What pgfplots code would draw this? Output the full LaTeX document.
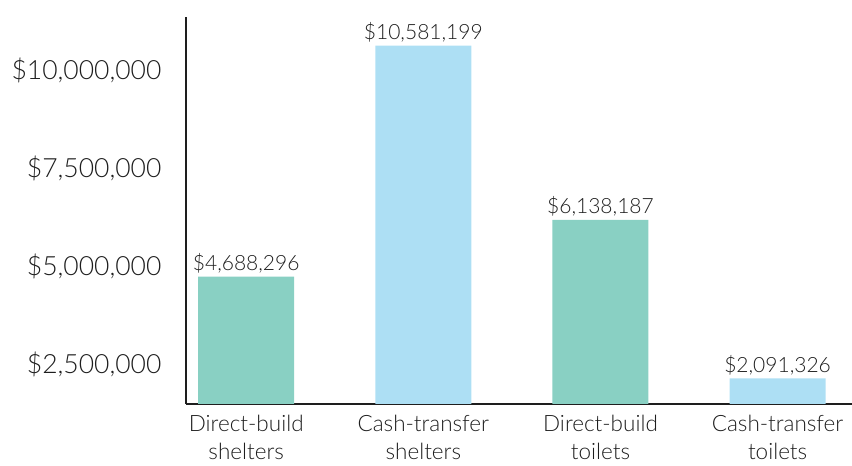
\documentclass[border=0pt]{standalone}
\usepackage{pgfplots}
\pgfplotsset{compat=1.18}
\usepackage{fontspec}
\setmainfont{Lato}[UprightFont={* Light}]
\definecolor{teal1}{HTML}{89D0C3}
\definecolor{blue1}{HTML}{ADDFF4}
\definecolor{txt}{HTML}{1E1E1E}
\begin{document}
\begin{tikzpicture}
\useasboundingbox (-186pt,-62pt) rectangle (666pt,404pt);
\begin{axis}[
  at={(0,0)}, anchor=south west,
  scale only axis, width=666pt, height=387pt,
  xmin=-0.34, xmax=3.42, ymin=1440000, ymax=11310000,
  axis lines=left, axis line style={-, draw=txt, line width=1.4pt},
  ybar, bar width=96pt,
  xtick={0,1,2,3},
  xticklabels={{Direct-build\\shelters},{Cash-transfer\\shelters},{Direct-build\\toilets},{Cash-transfer\\toilets}},
  xticklabel style={align=center, font=\fontsize{22.5}{28}\selectfont, text=txt, yshift=-8pt},
  ytick={2500000,5000000,7500000,10000000},
  yticklabels={{\$2,500,000},{\$5,000,000},{\$7,500,000},{\$10,000,000}},
  yticklabel style={font=\fontsize{26.5}{30}\selectfont, text=txt, xshift=-21pt, yshift=-2pt},
  major tick length=0pt,
  scaled y ticks=false,
  nodes near coords, point meta=explicit symbolic,
  every node near coord/.append style={font=\fontsize{21}{25}\selectfont, text=txt},
]
\addplot[fill=teal1, draw=none, bar shift=0pt] coordinates {(0,4688296) [\$4,688,296] (2,6138187) [\$6,138,187]};
\addplot[fill=blue1, draw=none, bar shift=0pt] coordinates {(1,10581199) [\$10,581,199] (3,2091326) [\$2,091,326]};
\end{axis}
\end{tikzpicture}
\end{document}
